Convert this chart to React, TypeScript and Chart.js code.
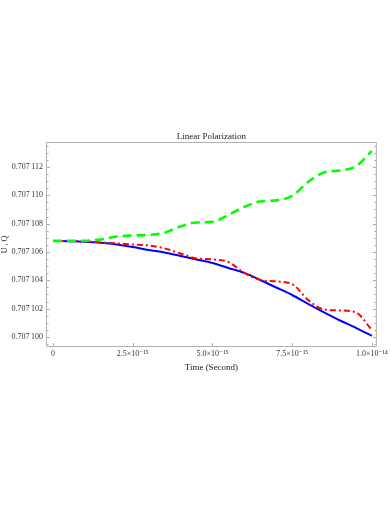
import React, { useEffect, useRef } from "react";
import { Chart, registerables } from "chart.js";
Chart.register(...registerables);

// time in seconds
const times = [
  0, 5e-16, 1.0e-15, 1.5e-15, 2.0e-15, 2.5e-15, 3.0e-15, 3.5e-15, 4.0e-15, 4.5e-15,
  5.0e-15, 5.5e-15, 6.0e-15, 6.5e-15, 7.0e-15, 7.5e-15, 8.0e-15, 8.5e-15, 9.0e-15, 9.5e-15, 1.0e-14,
];

const greenSeries = [
  0.70710678, 0.70710678, 0.70710679, 0.70710688, 0.70710709, 0.70710716, 0.7071072,
  0.70710736, 0.7071078, 0.70710808, 0.70710812, 0.70710861, 0.70710918, 0.70710956,
  0.70710964, 0.70710995, 0.70711094, 0.70711161, 0.70711175, 0.70711204, 0.70711313,
];

const redSeries = [
  0.70710678, 0.70710678, 0.70710674, 0.70710667, 0.7071066, 0.70710653, 0.70710646,
  0.70710625, 0.70710589, 0.70710554, 0.70710547, 0.70710529, 0.70710452, 0.70710402,
  0.70710392, 0.70710374, 0.70710261, 0.70710194, 0.70710187, 0.70710173, 0.70710049,
];

const blueSeries = [
  0.70710678, 0.70710676, 0.70710672, 0.70710665, 0.70710653, 0.70710635, 0.70710614,
  0.70710596, 0.70710572, 0.70710547, 0.70710522, 0.70710487, 0.70710452, 0.70710402,
  0.70710349, 0.70710296, 0.70710233, 0.70710173, 0.70710116, 0.70710064, 0.70710007,
];

const xTickValues = [0, 2.5e-15, 5.0e-15, 7.5e-15, 1.0e-14];
const xTickLabels = ["0", "2.5\u00d710\u207b\u00b9\u2075", "5.0\u00d710\u207b\u00b9\u2075", "7.5\u00d710\u207b\u00b9\u2075", "1.0\u00d710\u207b\u00b9\u2074"];

const yTickValues = [0.7071, 0.707102, 0.707104, 0.707106, 0.707108, 0.70711, 0.707112];
const yTickLabels = ["0.707\u2009100", "0.707\u2009102", "0.707\u2009104", "0.707\u2009106", "0.707\u2009108", "0.707\u2009110", "0.707\u2009112"];
const yMinorTicks = [
  0.7070995, 0.7071005, 0.707101, 0.7071015, 0.7071025, 0.707103, 0.7071035,
  0.7071045, 0.707105, 0.7071055, 0.7071065, 0.707107, 0.7071075, 0.7071085,
  0.707109, 0.7071095, 0.7071105, 0.707111, 0.7071115, 0.7071125, 0.707113, 0.7071135,
];

const X_MIN = -2.19e-16;
const X_MAX = 1.0156e-14;
const Y_MIN = 0.70709929;
const Y_MAX = 0.70711376;

const FRAME = "#b0b0b0";
const SERIF = "'Liberation Serif', 'DejaVu Serif', serif";

const framePlugin = {
  id: "frameTicks",
  afterDatasetsDraw(chart: any) {
    const { ctx, chartArea, scales } = chart;
    const { left, right, top, bottom } = chartArea;
    ctx.save();
    ctx.strokeStyle = FRAME;
    ctx.lineWidth = 1;
    ctx.beginPath();
    ctx.rect(left + 0.5, top + 0.5, right - left - 1, bottom - top - 1);
    ctx.stroke();
    ctx.beginPath();
    for (const v of xTickValues) {
      const x = Math.round(scales.x.getPixelForValue(v)) + 0.5;
      ctx.moveTo(x, bottom);
      ctx.lineTo(x, bottom - 4);
    }
    for (const v of yTickValues) {
      const y = Math.round(scales.y.getPixelForValue(v)) + 0.5;
      ctx.moveTo(left, y);
      ctx.lineTo(left + 4, y);
      ctx.moveTo(right, y);
      ctx.lineTo(right - 4, y);
    }
    for (const v of yMinorTicks) {
      const y = Math.round(scales.y.getPixelForValue(v)) + 0.5;
      ctx.moveTo(left, y);
      ctx.lineTo(left + 2.5, y);
      ctx.moveTo(right, y);
      ctx.lineTo(right - 2.5, y);
    }
    ctx.stroke();
    ctx.restore();
  },
};

export default function App() {
  const canvasRef = useRef<HTMLCanvasElement | null>(null);

  useEffect(() => {
    document.body.style.margin = "0";
    const canvas = canvasRef.current;
    if (!canvas) return;
    const toPts = (ys: number[]) => times.map((t, i) => ({ x: t, y: ys[i] }));
    const chart = new Chart(canvas, {
      type: "line",
      data: {
        datasets: [
          {
            label: "Green",
            data: toPts(greenSeries),
            borderColor: "#00ff00",
            borderWidth: 2.6,
            borderDash: [9, 5],
            pointRadius: 0,
            cubicInterpolationMode: "monotone",
            fill: false,
          },
          {
            label: "Red",
            data: toPts(redSeries),
            borderColor: "#ff0000",
            borderWidth: 2,
            borderDash: [6, 3, 2, 3],
            pointRadius: 0,
            cubicInterpolationMode: "monotone",
            fill: false,
          },
          {
            label: "Blue",
            data: toPts(blueSeries),
            borderColor: "#0000ff",
            borderWidth: 2,
            pointRadius: 0,
            cubicInterpolationMode: "monotone",
            fill: false,
          },
        ],
      },
      options: {
        animation: false,
        responsive: false,
        devicePixelRatio: 1,
        layout: { padding: { left: 0, right: 12, top: 0, bottom: 0 } },
        plugins: {
          legend: { display: false },
          tooltip: { enabled: false },
          title: {
            display: true,
            text: "Linear Polarization",
            fullSize: false,
            color: "#222",
            font: { family: SERIF, size: 9, weight: "normal", lineHeight: 1.2 },
            padding: { top: 131.2, bottom: 0 },
          },
        },
        scales: {
          x: {
            type: "linear",
            min: X_MIN,
            max: X_MAX,
            grid: { display: false, drawTicks: false },
            border: { display: false },
            afterBuildTicks: (scale: any) => {
              scale.ticks = xTickValues.map((v) => ({ value: v }));
            },
            afterFit: (scale: any) => {
              scale.height = 158;
            },
            ticks: {
              autoSkip: false,
              maxRotation: 0,
              padding: 2,
              color: "#333",
              font: { family: SERIF, size: 8 },
              callback: (v: any) => {
                const i = xTickValues.findIndex((t) => Math.abs(t - Number(v)) < 1e-18);
                return i >= 0 ? xTickLabels[i] : "";
              },
            },
            title: {
              display: true,
              text: "Time (Second)",
              color: "#222",
              font: { family: SERIF, size: 9, lineHeight: 1.2 },
              padding: { top: 0, bottom: 131.6 },
            },
          },
          y: {
            type: "linear",
            min: Y_MIN,
            max: Y_MAX,
            grid: { display: false, drawTicks: false },
            border: { display: false },
            afterBuildTicks: (scale: any) => {
              scale.ticks = yTickValues.map((v) => ({ value: v }));
            },
            afterFit: (scale: any) => {
              scale.width = 46;
            },
            ticks: {
              autoSkip: false,
              padding: 3,
              color: "#333",
              font: { family: SERIF, size: 8 },
              callback: (v: any) => {
                const i = yTickValues.findIndex((t) => Math.abs(t - Number(v)) < 1e-9);
                return i >= 0 ? yTickLabels[i] : "";
              },
            },
            title: {
              display: true,
              text: "U , Q",
              color: "#222",
              font: { family: SERIF, size: 8, lineHeight: 1.2 },
              padding: { top: 0, bottom: 0 },
            },
          },
        },
      },
      plugins: [framePlugin],
    } as any);
    return () => chart.destroy();
  }, []);

  return (
    <div style={{ position: "fixed", left: 0, top: 0, width: 390, height: 505, background: "#fff" }}>
      <canvas ref={canvasRef} width={390} height={505} style={{ display: "block" }} />
    </div>
  );
}
